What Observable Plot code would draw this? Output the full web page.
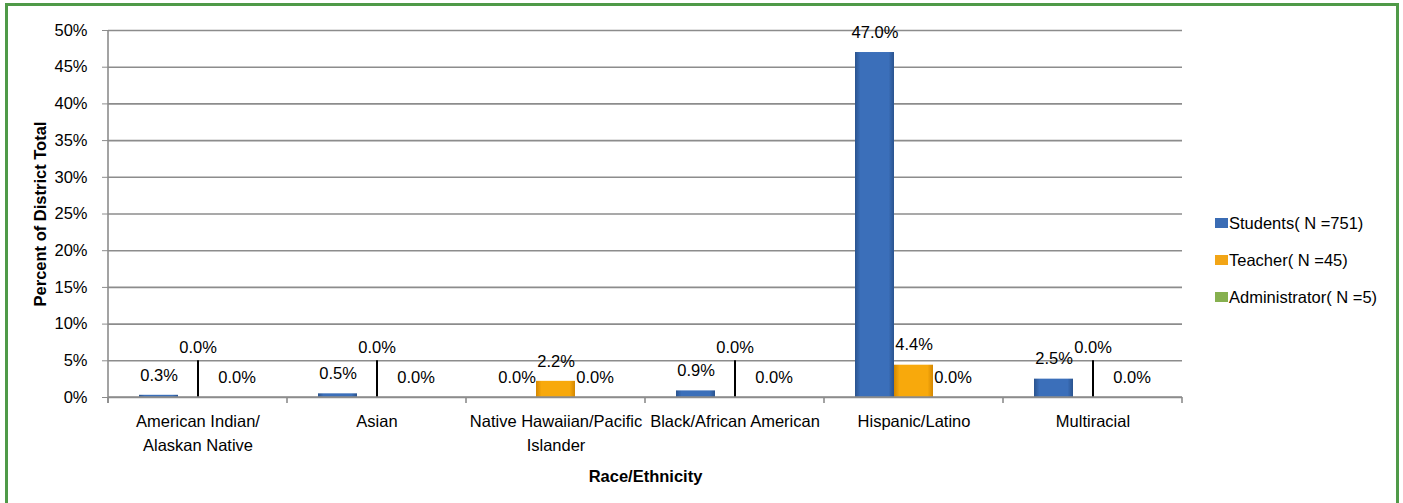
<!DOCTYPE html>
<html>
<head>
<meta charset="utf-8">
<script src="https://cdn.jsdelivr.net/npm/d3@7"></script>
<script src="https://cdn.jsdelivr.net/npm/@observablehq/plot@0.6"></script>
<style>
  html, body { margin: 0; padding: 0; background: #fff; }
  #wrap { position: relative; width: 1403px; height: 503px; overflow: hidden; font-family: "Liberation Sans", Arial, sans-serif; }
  #frame { position: absolute; left: 5px; top: 3px; width: 1394px; height: 520px; border: 3px solid #4f9a48; box-sizing: border-box; }
  #chart { position: absolute; left: 0; top: 0; }
  #legend { position: absolute; left: 1215px; top: 212px; font-size: 16.5px; color: #000; }
  .item { display: flex; align-items: center; height: 22px; margin-bottom: 15px; }
  .sw { width: 13px; height: 10px; margin-right: 1px; }
</style>
</head>
<body>
<svg width="0" height="0" style="position:absolute">
  <defs>
    <linearGradient id="gS" x1="0" x2="1" y1="0" y2="0">
      <stop offset="0" stop-color="#2a538e"/>
      <stop offset="0.14" stop-color="#3b6fba"/>
      <stop offset="0.86" stop-color="#3b6fba"/>
      <stop offset="1" stop-color="#2a538e"/>
    </linearGradient>
    <linearGradient id="gT" x1="0" x2="1" y1="0" y2="0">
      <stop offset="0" stop-color="#d48700"/>
      <stop offset="0.14" stop-color="#f8a90c"/>
      <stop offset="0.86" stop-color="#f8a90c"/>
      <stop offset="1" stop-color="#d48700"/>
    </linearGradient>
    <linearGradient id="gA" x1="0" x2="1" y1="0" y2="0">
      <stop offset="0" stop-color="#6f9540"/>
      <stop offset="0.14" stop-color="#8cb558"/>
      <stop offset="0.86" stop-color="#8cb558"/>
      <stop offset="1" stop-color="#6f9540"/>
    </linearGradient>
  </defs>
</svg>
<div id="wrap">
  <div id="frame"></div>
  <div id="chart"></div>
  <div id="legend"></div>
</div>
<script>
// ---- data ----
const categories = ["American Indian/ Alaskan Native", "Asian", "Native Hawaiian/Pacific Islander", "Black/African American", "Hispanic/Latino", "Multiracial"];
const tickLabels = ["American Indian/\nAlaskan Native", "Asian", "Native Hawaiian/Pacific\nIslander", "Black/African American", "Hispanic/Latino", "Multiracial"];
const series = ["Students( N =751)", "Teacher( N =45)", "Administrator( N =5)"];
const students = [0.3, 0.5, 0.0, 0.9, 47.0, 2.5];
const teachers = [0.0, 0.0, 2.2, 0.0, 4.4, 0.0];
const administrators = [0.0, 0.0, 0.0, 0.0, 0.0, 0.0];
const yTicks = [0, 5, 10, 15, 20, 25, 30, 35, 40, 45, 50];
const seriesFills = ["url(#gS)", "url(#gT)", "url(#gA)"];
const legendColors = ["#3a6cb4", "#f2a516", "#86b04f"];

const valuesBySeries = [students, teachers, administrators];
const rows = [];
categories.forEach((c, i) => {
  series.forEach((s, j) => rows.push({cat: c, series: s, value: valuesBySeries[j][i], si: j}));
});
// Teacher zero values are labelled with a leader line in the original
const leader = rows.filter(d => d.si === 1 && d.value === 0);
const direct = rows.filter(d => !(d.si === 1 && d.value === 0));
const fmt = v => v.toFixed(1) + "%";

const plot = Plot.plot({
  width: 1403,
  height: 503,
  marginTop: 30,
  marginBottom: 106,
  marginLeft: 106,
  marginRight: 219,
  style: {fontSize: "16.5px", fontFamily: "'Liberation Sans', Arial, sans-serif", color: "#000", background: "transparent"},
  fx: {domain: categories, padding: 0},
  x: {domain: series, paddingInner: 0, paddingOuter: 0.75},
  y: {domain: [0, 50]},
  color: {domain: series, range: seriesFills},
  marks: [
    Plot.gridY(yTicks, {stroke: "#8c8c8c", strokeOpacity: 1, strokeWidth: 1.6}),
    Plot.barY(rows, {fx: "cat", x: "series", y: "value", fill: "series"}),
    Plot.text(direct, {fx: "cat", x: "series", y: "value", text: d => fmt(d.value), dy: -20, fill: "#000"}),
    Plot.ruleX(leader, {fx: "cat", x: "series", y1: 0, y2: 5, stroke: "#000", strokeWidth: 2}),
    Plot.text(leader, {fx: "cat", x: "series", y: 5, text: d => fmt(d.value), dy: -13, fill: "#000"}),
    Plot.axisY({ticks: yTicks, tickFormat: d => d + "%", tickSize: 6, tickPadding: 15, stroke: "#8c8c8c", fill: "#000",
      label: "Percent of District Total", labelAnchor: "center", labelArrow: "none", labelOffset: 74}),
    Plot.axisFx({anchor: "bottom", tickSize: 0, tickPadding: 13, lineHeight: 1.45, fill: "#000",
      tickFormat: c => tickLabels[categories.indexOf(c)],
      label: "Race/Ethnicity", labelAnchor: "center", labelArrow: "none", labelOffset: 84}),
    Plot.axisX({ticks: [], label: null})
  ]
});
document.getElementById("chart").appendChild(plot);

// axis line and category boundary ticks (Excel style), from the library's scales
const svg = d3.select(plot);
const fxs = plot.scale("fx");
const ys = plot.scale("y");
const y0 = ys.apply(0), yTop = ys.apply(50);
const starts = categories.map(c => fxs.apply(c));
const bounds = starts.concat([starts[starts.length - 1] + fxs.bandwidth]);
const g = svg.append("g").attr("stroke", "#8c8c8c").attr("stroke-width", 1.6);
bounds.forEach(x => g.append("line").attr("x1", x).attr("x2", x).attr("y1", y0).attr("y2", y0 + 6));
g.append("line").attr("x1", bounds[0]).attr("x2", bounds[0]).attr("y1", yTop).attr("y2", y0 + 6);
g.append("line").attr("x1", bounds[0]).attr("x2", bounds[bounds.length - 1]).attr("y1", y0).attr("y2", y0);

svg.selectAll('[aria-label="y-axis label"], [aria-label="fx-axis label"]').attr("font-weight", "bold");

// legend
const leg = d3.select("#legend");
series.forEach((s, i) => {
  const it = leg.append("div").attr("class", "item");
  it.append("div").attr("class", "sw").style("background", legendColors[i]);
  it.append("span").text(s);
});
</script>
</body>
</html>
